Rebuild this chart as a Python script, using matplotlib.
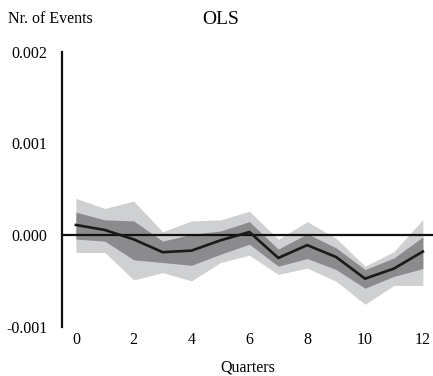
import numpy as np
import matplotlib
matplotlib.use("Agg")
import matplotlib.pyplot as plt

plt.rcParams["font.family"] = ["Liberation Serif", "DejaVu Serif"]

# Quarters after event and OLS estimates (in units of 1e-3)
quarters = np.arange(0, 13)
estimate = [0.11, 0.055, -0.047, -0.187, -0.17, -0.058, 0.033, -0.25, -0.11, -0.24, -0.476, -0.366, -0.18]
inner_hi = [0.25, 0.165, 0.154, -0.066, 0.008, 0.044, 0.146, -0.154, 0.014, -0.14, -0.377, -0.25, -0.02]
inner_lo = [-0.044, -0.066, -0.27, -0.30, -0.33, -0.21, -0.10, -0.34, -0.256, -0.377, -0.58, -0.45, -0.366]
outer_hi = [0.40, 0.29, 0.37, 0.036, 0.154, 0.165, 0.26, -0.047, 0.146, -0.036, -0.34, -0.18, 0.17]
outer_lo = [-0.19, -0.19, -0.49, -0.41, -0.50, -0.30, -0.22, -0.43, -0.36, -0.505, -0.755, -0.55, -0.55]

scale = 1e-3
est = np.array(estimate) * scale

fig = plt.figure(figsize=(4.33, 3.76), dpi=100)
ax = fig.add_axes([62 / 433, 1 - 326.7 / 376, 1 - 62 / 433, (326.7 - 51.7) / 376])

ax.fill_between(quarters, np.array(outer_lo) * scale, np.array(outer_hi) * scale,
                color="#cfd0d2", linewidth=0)
ax.fill_between(quarters, np.array(inner_lo) * scale, np.array(inner_hi) * scale,
                color="#8b8b8d", linewidth=0)
ax.axhline(0, color="#111111", linewidth=1.6)
ax.plot(quarters, est, color="#1a1a1a", linewidth=1.9)

ax.set_xlim(-0.48, 12.35)
ax.set_ylim(-0.001, 0.002)
ax.set_xticks(range(0, 13, 2))
ax.set_yticks([-0.001, 0.0, 0.001, 0.002])
ax.set_yticklabels(["-0.001", "0.000", "0.001", "0.002"])
ax.tick_params(axis="both", length=0, labelsize=11.5)
ax.tick_params(axis="y", pad=10.5)
ax.tick_params(axis="x", pad=4)

for s in ["top", "right", "bottom"]:
    ax.spines[s].set_visible(False)
ax.spines["left"].set_linewidth(1.6)
ax.spines["left"].set_color("#111111")

ax.set_xlabel("Quarters", fontsize=11.5, labelpad=8)
fig.text(8 / 433, 1 - 19 / 376, "Nr. of Events", fontsize=11.5, ha="left", va="center")
fig.text(221 / 433, 1 - 19 / 376, "OLS", fontsize=14, ha="center", va="center")

fig.savefig("out.png", dpi=100)
